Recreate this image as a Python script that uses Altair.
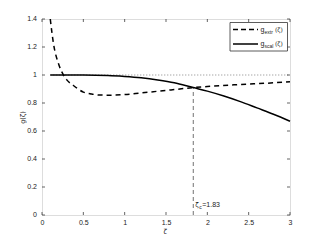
import altair as alt
import pandas as pd

# ---- data ----
xi_extr = [0.1, 0.14, 0.2, 0.26, 0.3, 0.38, 0.5, 0.6, 0.7, 0.8, 1.0, 1.2, 1.4, 1.6, 1.83, 2.0, 2.4, 2.8, 3.0]
g_extr = [1.4, 1.22, 1.08, 1.0, 0.965, 0.925, 0.878, 0.864, 0.857, 0.856, 0.86, 0.872, 0.884, 0.896, 0.91, 0.918, 0.932, 0.944, 0.952]
xi_scal = [0.1, 0.5, 0.8, 1.0, 1.2, 1.4, 1.6, 1.83, 2.0, 2.2, 2.4, 2.6, 2.8, 3.0]
g_scal = [1.0, 1.0, 0.997, 0.99, 0.98, 0.965, 0.945, 0.91, 0.885, 0.85, 0.81, 0.765, 0.72, 0.67]
ref_x = [0.1, 3.0]
ref_y = [1.0, 1.0]
xi_c = 1.83
g_c = 0.91
x_ticks = [0, 0.5, 1, 1.5, 2, 2.5, 3]
y_ticks = [0, 0.2, 0.4, 0.6, 0.8, 1.0, 1.2, 1.4]
y_tick_labels = ["0", "0.2", "0.4", "0.6", "0.8", "1", "1.2", "1.4"]

W, H = 248, 196
FONT = "Liberation Sans"
xs = alt.Scale(domain=[0, 3], nice=False)
ys = alt.Scale(domain=[0, 1.4], nice=False)

df_extr = pd.DataFrame({"xi": xi_extr, "g": g_extr})
df_scal = pd.DataFrame({"xi": xi_scal, "g": g_scal})
df_ref = pd.DataFrame({"xi": ref_x, "g": ref_y})
df_c = pd.DataFrame({"xi": [xi_c], "g0": [0.0], "g1": [g_c]})
df_xt = pd.DataFrame({"v": x_ticks})
df_yt = pd.DataFrame({"v": y_ticks, "lab": y_tick_labels})

x_axis = alt.Axis(values=x_ticks, ticks=False, tickSize=0, domain=False, grid=False,
                  labelFont=FONT, labelFontSize=7, labelColor="#222", labelPadding=3,
                  labelOverlap=False, labelFlush=False,
                  labelExpr="format(datum.value, '~g')",
                  title="ζ", titleFont="DejaVu Sans", titleFontSize=7, titleFontWeight="normal",
                  titleColor="#222", titleX=123, titleY=16, titleBaseline="middle")
y_axis = alt.Axis(values=y_ticks, ticks=False, tickSize=0, domain=False, grid=False,
                  labels=False,
                  title="g(ζ)", titleFont="DejaVu Sans", titleFontSize=6.5, titleFontWeight="normal",
                  titleColor="#222", titleX=-20, titleY=98, titleAngle=-90,
                  titleAlign="center", titleBaseline="middle")

XN = lambda f: alt.X(f, scale=xs)
YN = lambda f: alt.Y(f, scale=ys)

base_axes = alt.Chart(df_yt).mark_point(opacity=0).encode(
    x=alt.X("v:Q", scale=xs, axis=x_axis),
    y=alt.Y("v:Q", scale=ys, axis=y_axis),
)

y_labels = alt.Chart(df_yt).mark_text(font=FONT, fontSize=7, color="#222", align="right",
                                      baseline="middle").encode(
    y=YN("v:Q"), x=alt.value(-5), text="lab:N")

ref_line = alt.Chart(df_ref).mark_line(color="#666", strokeWidth=0.8, strokeDash=[1, 2]).encode(
    x=XN("xi:Q"), y=YN("g:Q"))

extr_line = alt.Chart(df_extr).mark_line(color="black", strokeWidth=1.5, strokeDash=[5, 4],
                                         interpolate="monotone", clip=True).encode(
    x=XN("xi:Q"), y=YN("g:Q"))

scal_line = alt.Chart(df_scal).mark_line(color="black", strokeWidth=1.5,
                                         interpolate="monotone").encode(
    x=XN("xi:Q"), y=YN("g:Q"))

vline = alt.Chart(df_c).mark_rule(color="#333", strokeWidth=0.7, strokeDash=[4, 3]).encode(
    x=XN("xi:Q"), y=YN("g0:Q"), y2="g1:Q")

ann_main = alt.Chart(df_c).mark_text(font="DejaVu Sans", fontSize=6.5, color="#222", align="left",
                                     baseline="alphabetic", dx=2, dy=-8).encode(
    x=XN("xi:Q"), y=YN("g0:Q"), text=alt.value("ζ"))
ann_sub = alt.Chart(df_c).mark_text(font=FONT, fontSize=5, color="#222", align="left",
                                    baseline="alphabetic", dx=6, dy=-6).encode(
    x=XN("xi:Q"), y=YN("g0:Q"), text=alt.value("c"))
ann_val = alt.Chart(df_c).mark_text(font=FONT, fontSize=7, color="#222", align="left",
                                    baseline="alphabetic", dx=9, dy=-8).encode(
    x=XN("xi:Q"), y=YN("g0:Q"), text=alt.value("=1.83"))

# inward ticks on all four sides
tick_b = alt.Chart(df_xt).mark_rule(color="#222", strokeWidth=0.7).encode(
    x=XN("v:Q"), y=alt.value(H), y2=alt.value(H - 3))
tick_t = alt.Chart(df_xt).mark_rule(color="#222", strokeWidth=0.7).encode(
    x=XN("v:Q"), y=alt.value(0), y2=alt.value(3))
tick_l = alt.Chart(df_yt).mark_rule(color="#222", strokeWidth=0.7).encode(
    y=YN("v:Q"), x=alt.value(0), x2=alt.value(3))
tick_r = alt.Chart(df_yt).mark_rule(color="#222", strokeWidth=0.7).encode(
    y=YN("v:Q"), x=alt.value(W), x2=alt.value(W - 3))

# legend box (manual, with subscripts)
leg_box = alt.Chart(df_c).mark_rect(fill="white", stroke="#333", strokeWidth=0.8).encode(
    x=alt.value(188), x2=alt.value(245.5), y=alt.value(3.5), y2=alt.value(32))
leg_l1 = alt.Chart(df_c).mark_rule(color="black", strokeWidth=1.5, strokeDash=[5, 3]).encode(
    x=alt.value(191), x2=alt.value(216), y=alt.value(10.5))
leg_l2 = alt.Chart(df_c).mark_rule(color="black", strokeWidth=1.5).encode(
    x=alt.value(191), x2=alt.value(216), y=alt.value(25))

def txt(s, x, y, size, font=FONT):
    return alt.Chart(df_c).mark_text(font=font, fontSize=size, color="#222", align="left",
                                     baseline="alphabetic").encode(
        x=alt.value(x), y=alt.value(y), text=alt.value(s))

legend = [
    txt("g", 218.5, 12.5, 7), txt("extr", 222.5, 14.5, 5), txt("(ζ)", 233, 12.5, 6, "DejaVu Sans"),
    txt("g", 218.5, 27, 7), txt("scal", 222.5, 29, 5), txt("(ζ)", 233, 27, 6, "DejaVu Sans"),
]

chart = alt.layer(
    base_axes, y_labels, ref_line, vline, extr_line, scal_line,
    ann_main, ann_sub, ann_val,
    tick_b, tick_t, tick_l, tick_r,
    leg_box, leg_l1, leg_l2, *legend,
).properties(
    width=W, height=H,
    autosize=alt.AutoSizeParams(type="none"),
    padding={"left": 34, "top": 11, "right": 23, "bottom": 19},
).configure_view(stroke="#222", strokeWidth=0.8
).configure_axis(labelOverlap=False
).configure(background="white")

chart.save("out.html", embed_options={"renderer": "svg", "actions": False})
